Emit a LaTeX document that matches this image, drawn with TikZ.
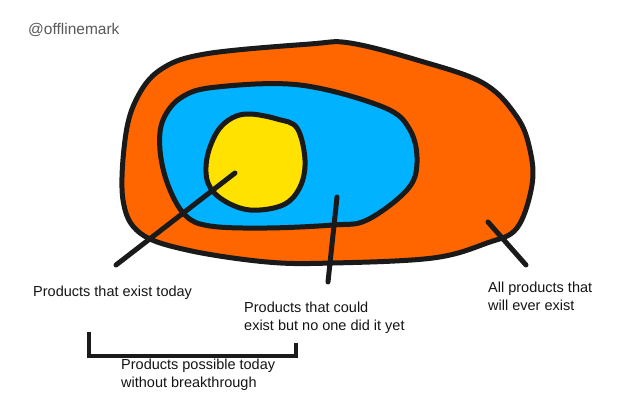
\documentclass[tikz,border=0pt]{standalone}
\usepackage{fontspec}
\setmainfont{Liberation Sans}
\definecolor{allOrange}{HTML}{FF6600}
\definecolor{couldBlue}{HTML}{00B2FF}
\definecolor{todayYellow}{HTML}{FFE200}
\definecolor{inkBlack}{HTML}{1A1A1A}
\begin{document}
\begin{tikzpicture}
[x=1pt,y=-1pt,%
  regionDecorate/.style={draw=inkBlack,line width=5pt,line join=round},%
  pointerDecorate/.style={draw=inkBlack,line width=5pt,line cap=round},%
  labelDecorate/.style={anchor=west,inner sep=0pt,align=left,
    font=\fontsize{14.5}{18}\selectfont,text=black!92}]
\useasboundingbox (0,0) rectangle (624,409);
%% regions
\draw[regionDecorate,fill=allOrange] plot[smooth cycle,tension=0.6] coordinates {
  (310,44) (350,43) (417,60) (483,83) (517,117) (530,150) (532,185)
  (517,228) (487,243) (433,258) (333,263) (267,262) (187,250) (140,233)
  (123,200) (125,140) (136,100) (160,70) (205,54)};
\draw[regionDecorate,fill=couldBlue] plot[smooth cycle,tension=0.6] coordinates {
  (300,85) (383,107) (410,130) (417,163) (407,190) (367,220) (333,225)
  (267,228) (210,226) (185,215) (168,185) (160,150) (163,120) (182,97)
  (217,87)};
\draw[regionDecorate,fill=todayYellow] plot[smooth cycle,tension=0.6] coordinates {
  (250,114) (277,119) (297,128) (305,160) (300,187) (283,205) (250,210)
  (223,200) (208,183) (207,158) (217,132) (232,118)};
%% pointer ends
\foreach \pointname/\x/\y in {
  todayIn/235/173, todayOut/116/265,
  couldIn/337/197, couldOut/328/282,
  everIn/488/222, everOut/526/265,
  %% bracket
  braceA/89/332, braceB/89/356, braceC/296/356, braceD/296/343}
{
  \coordinate (\pointname) at (\x,\y);
}
%% pointers
\path
\foreach \startnode/\endnode in {
  todayIn/todayOut, couldIn/couldOut, everIn/everOut}
{
  (\startnode) edge[pointerDecorate] (\endnode)
};
\draw[pointerDecorate,line width=4pt,line cap=butt,line join=miter]
  (braceA) -- (braceB) -- (braceC) -- (braceD);
%% labels
\node (handle) at (28,30) [anchor=west,inner sep=0pt,
  font=\fontsize{15.5}{17}\selectfont,text=black!65] {@offlinemark};
\node (existToday) at (33,293) [labelDecorate] {Products that exist today};
\node (couldExist) at (244,318) [labelDecorate] {Products that could\\exist but no one did it yet};
\node (everExist) at (488,296) [labelDecorate] {All products that\\will ever exist};
\node (possibleToday) at (121,375) [labelDecorate] {Products possible today\\without breakthrough};
\end{tikzpicture}
\end{document}
